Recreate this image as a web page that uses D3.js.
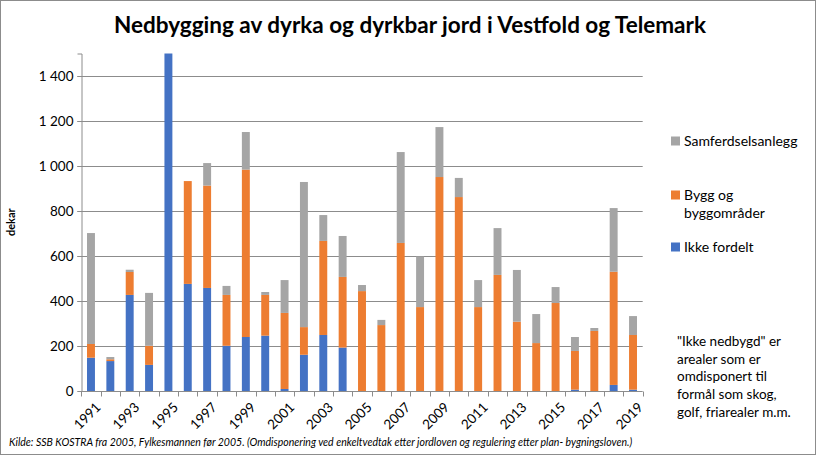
<!DOCTYPE html>
<html>
<head>
<meta charset="utf-8">
<script src="https://cdn.jsdelivr.net/npm/d3@7"></script>
<style>
  body { margin: 0; background: #fff; }
  svg { display: block; font-family: Lato, "Open Sans", sans-serif; }
</style>
</head>
<body>
<div id="chart"></div>
<script>
// Data (dekar)
const years = ["1991","1992","1993","1994","1995","1996","1997","1998","1999","2000",
  "2001","2002","2003","2004","2005","2006","2007","2008","2009","2010",
  "2011","2012","2013","2014","2015","2016","2017","2018","2019"];
const ikkeFordelt = [148,133,427,116,1530,476,458,201,240,246,9,161,249,193,0,0,0,0,0,0,0,0,0,0,0,6,0,27,6];
const bygg = [61,8,102,85,0,457,455,226,744,181,338,123,418,314,444,293,658,373,951,862,373,516,308,213,391,172,267,503,243];
const samferdsel = [493,10,10,235,0,0,100,40,167,13,146,645,115,182,27,23,404,225,222,85,120,208,230,129,71,62,13,283,84];
const yTicks = [0,200,400,600,800,1000,1200,1400];

const seriesNames = ["Ikke fordelt", "Bygg og byggområder", "Samferdselsanlegg"];
const colors = ["#4472c4", "#ed7d31", "#a5a5a5"];

const width = 816, height = 455;
const margin = {top: 53.5, left: 81.3, right: 816 - 642.7, bottom: 455 - 391};

const svg = d3.select("#chart").append("svg")
  .attr("width", width)
  .attr("height", height);

// ramme
svg.append("rect")
  .attr("x", 0.5).attr("y", 0.5)
  .attr("width", width - 1).attr("height", height - 1)
  .attr("fill", "#fff").attr("stroke", "#8c8c8c");

// tittel
svg.append("text")
  .attr("x", 410).attr("y", 33)
  .attr("text-anchor", "middle")
  .attr("font-weight", "bold")
  .attr("font-size", 22.5)
  .attr("fill", "#000")
  .text("Nedbygging av dyrka og dyrkbar jord i Vestfold og Telemark");

const x = d3.scaleBand()
  .domain(years)
  .range([margin.left, width - margin.right])
  .paddingInner(0.59)
  .paddingOuter(0.295);

const y = d3.scaleLinear()
  .domain([0, 1500])
  .range([height - margin.bottom, margin.top]);

const fmt = d3.formatLocale({decimal: ",", thousands: " ", grouping: [3], currency: ["", ""]}).format(",d");

// rutenett
svg.append("g")
  .selectAll("line")
  .data(yTicks.filter(d => d > 0))
  .join("line")
  .attr("x1", margin.left - 4).attr("x2", width - margin.right)
  .attr("y1", d => Math.round(y(d)) + 0.5).attr("y2", d => Math.round(y(d)) + 0.5)
  .attr("stroke", "#8c8c8c");

// y-akse
const yAxis = svg.append("g")
  .attr("transform", `translate(${Math.round(margin.left) + 0.5},0)`)
  .call(d3.axisLeft(y).tickValues(yTicks).tickFormat(fmt).tickSize(4).tickPadding(4));
yAxis.select(".domain").attr("stroke", "#8c8c8c");
yAxis.selectAll(".tick line").attr("stroke", "#8c8c8c");
yAxis.selectAll(".tick text")
  .attr("font-family", "Lato, sans-serif")
  .attr("font-size", 13.5)
  .attr("fill", "#000");

svg.append("text")
  .attr("transform", `translate(15,${(y(0) + y(1500)) / 2}) rotate(-90)`)
  .attr("text-anchor", "middle")
  .attr("font-weight", "bold")
  .attr("font-size", 11)
  .text("dekar");

// stabling
const table = years.map((yr, i) => ({
  year: yr,
  "Ikke fordelt": ikkeFordelt[i],
  "Bygg og byggområder": bygg[i],
  "Samferdselsanlegg": samferdsel[i]
}));
const stacked = d3.stack().keys(seriesNames)(table);

svg.append("clipPath").attr("id", "plot")
  .append("rect")
  .attr("x", margin.left).attr("y", margin.top)
  .attr("width", width - margin.left - margin.right)
  .attr("height", y(0) - margin.top);

svg.append("g")
  .attr("clip-path", "url(#plot)")
  .selectAll("g")
  .data(stacked)
  .join("g")
  .attr("fill", (d, i) => colors[i])
  .selectAll("rect")
  .data(d => d)
  .join("rect")
  .attr("x", d => x(d.data.year))
  .attr("width", x.bandwidth())
  .attr("y", d => y(d[1]))
  .attr("height", d => y(d[0]) - y(d[1]));

// x-akse
const xAxis = svg.append("g")
  .attr("transform", `translate(0,${Math.round(y(0)) + 0.5})`);
xAxis.append("line")
  .attr("x1", margin.left).attr("x2", width - margin.right)
  .attr("stroke", "#8c8c8c");
const step = x.step();
xAxis.selectAll("line.tk")
  .data(d3.range(years.length + 1))
  .join("line")
  .attr("class", "tk")
  .attr("x1", k => Math.round(margin.left + k * step) + 0.5)
  .attr("x2", k => Math.round(margin.left + k * step) + 0.5)
  .attr("y1", 0).attr("y2", 5)
  .attr("stroke", "#8c8c8c");
xAxis.selectAll("text")
  .data(years.filter((d, i) => i % 2 === 0))
  .join("text")
  .attr("transform", d => `translate(${x(d) + x.bandwidth() / 2 + 4},${10}) rotate(-45)`)
  .attr("text-anchor", "end")
  .attr("dy", "0.7em")
  .attr("font-size", 13.5)
  .attr("fill", "#000")
  .text(d => d);

// legende
const legendItems = [
  {lines: ["Samferdselsanlegg"], color: colors[2], y: 141},
  {lines: ["Bygg og", "byggområder"], color: colors[1], y: 195},
  {lines: ["Ikke fordelt"], color: colors[0], y: 247}
];
const legend = svg.append("g");
legendItems.forEach(it => {
  legend.append("rect")
    .attr("x", 671).attr("y", it.y - 4.5)
    .attr("width", 9).attr("height", 9)
    .attr("fill", it.color);
  legend.append("text")
    .attr("x", 684).attr("y", it.y)
    .attr("dy", "0.35em")
    .attr("font-size", 14)
    .selectAll("tspan")
    .data(it.lines)
    .join("tspan")
    .attr("x", 684)
    .attr("dy", (d, i) => i === 0 ? "0.35em" : 18)
    .text(d => d);
});

// merknad
const note = ["\"Ikke nedbygd\" er", "arealer som er", "omdisponert til", "formål som skog,", "golf, friarealer m.m."];
svg.append("text")
  .attr("font-size", 13.5)
  .selectAll("tspan")
  .data(note)
  .join("tspan")
  .attr("x", 677)
  .attr("y", (d, i) => 346 + i * 17.7)
  .text(d => d);

// kilde
svg.append("text")
  .attr("x", 9).attr("y", 446)
  .attr("font-size", 10.5)
  .attr("font-style", "italic")
  .text("Kilde: SSB KOSTRA fra 2005, Fylkesmannen før 2005. (Omdisponering ved enkeltvedtak etter jordloven og regulering etter plan- bygningsloven.)");
</script>
</body>
</html>
